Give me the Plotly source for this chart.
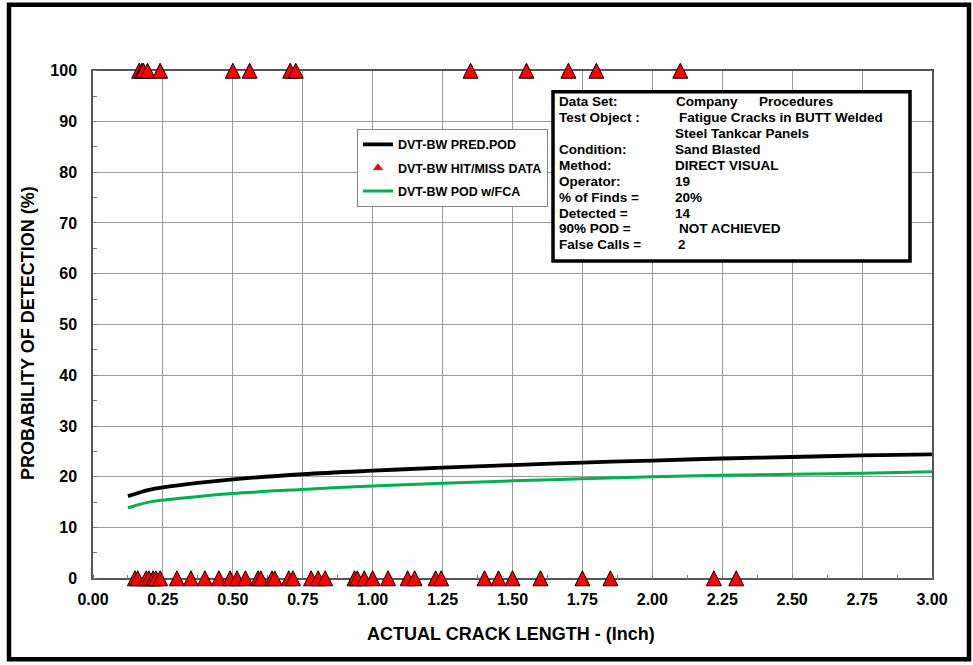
import plotly.graph_objects as go

# ---------------- data ----------------
curve_x = [0.125, 0.15, 0.2, 0.25, 0.375, 0.5, 0.75, 1.0, 1.25, 1.5, 1.75, 2.0, 2.25, 2.5, 2.75, 3.0]
pred_pod = [16.2, 16.6, 17.4, 17.9, 18.8, 19.5, 20.5, 21.2, 21.8, 22.3, 22.8, 23.2, 23.6, 23.9, 24.2, 24.4]
pod_fca = [13.9, 14.3, 15.0, 15.4, 16.1, 16.7, 17.5, 18.2, 18.7, 19.2, 19.6, 20.0, 20.3, 20.5, 20.7, 21.0]

hit_x = [0.165, 0.175, 0.18, 0.195, 0.24, 0.50, 0.56, 0.705, 0.725, 1.35, 1.55, 1.70, 1.80, 2.10]
hit_y = [100] * len(hit_x)
miss_x = [0.15, 0.16, 0.19, 0.20, 0.215, 0.225, 0.24, 0.30, 0.35, 0.40, 0.45, 0.49, 0.515,
          0.545, 0.59, 0.60, 0.64, 0.65, 0.70, 0.715, 0.78, 0.805, 0.83, 0.935, 0.945, 0.97,
          1.00, 1.055, 1.125, 1.15, 1.225, 1.245, 1.40, 1.45, 1.50, 1.60, 1.75, 1.85, 2.22, 2.30]
miss_y = [0] * len(miss_x)

x_ticks = [0, 0.25, 0.5, 0.75, 1.0, 1.25, 1.5, 1.75, 2.0, 2.25, 2.5, 2.75, 3.0]
x_tick_labels = ["0.00", "0.25", "0.50", "0.75", "1.00", "1.25", "1.50", "1.75", "2.00",
                 "2.25", "2.50", "2.75", "3.00"]
y_ticks = [0, 10, 20, 30, 40, 50, 60, 70, 80, 90, 100]
y_tick_labels = ["0", "10", "20", "30", "40", "50", "60", "70", "80", "90", "100"]

series_names = ["DVT-BW PRED.POD", "DVT-BW HIT/MISS DATA", "DVT-BW POD w/FCA"]

info_labels = ["Data Set:", "Test Object :", "", "Condition:", "Method:", "Operator:",
               "% of Finds =", "Detected =", "90% POD =", "False Calls ="]
info_values = ["Company", "Fatigue Cracks in BUTT Welded", "Steel Tankcar Panels", "Sand Blasted",
               "DIRECT VISUAL", "19", "20%", "14", "NOT ACHIEVED", "2"]
info_extra = "Procedures"

x_title = "ACTUAL CRACK LENGTH - (Inch)"
y_title = "PROBABILITY OF DETECTION (%)"

# ---------------- layout geometry (pixels) ----------------
W, H = 973, 665
PLOT_L, PLOT_R, PLOT_T, PLOT_B = 93, 932, 71, 578      # main plotting rectangle
PPU = (PLOT_B - PLOT_T) / 100.0                          # pixels per % unit
MSIZE = 15                                               # marker size
APEX = MSIZE / 2.0                                       # arrow apex offset so triangle is centered
Y2_RANGE = [-3, 103]
y2_bot = PLOT_B - APEX - Y2_RANGE[0] * PPU
y2_top = PLOT_B - APEX - Y2_RANGE[1] * PPU

PAPER_T = y2_top - 1
PAPER_B = y2_bot + 1
L, R = PLOT_L, W - PLOT_R
T, B = PAPER_T, H - PAPER_B
PW = W - L - R
PH = PAPER_B - PAPER_T

y_dom = [(PAPER_B - PLOT_B) / PH, (PAPER_B - PLOT_T) / PH]
y2_dom = [(PAPER_B - y2_bot) / PH, (PAPER_B - y2_top) / PH]


def px(xp):
    return (xp - L) / PW


def py(yp):
    return (PAPER_B - yp) / PH


FONT = "Liberation Sans, Arial, sans-serif"
GREEN = "#00b050"

fig = go.Figure()

fig.add_trace(go.Scatter(x=curve_x, y=pred_pod, mode="lines", name=series_names[0],
                         line=dict(color="black", width=3.8, shape="spline"),
                         legendgroup="a", legendrank=1))
fig.add_trace(go.Scatter(x=curve_x, y=pod_fca, mode="lines", name=series_names[2],
                         line=dict(color=GREEN, width=3, shape="spline"),
                         legendgroup="c", legendrank=3))
# legend-only entry for hit/miss
fig.add_trace(go.Scatter(x=[None], y=[None], mode="markers", name=series_names[1],
                         marker=dict(symbol="triangle-up", size=8, color="#ff0000",
                                     line=dict(color="#600000", width=0.5)),
                         legendgroup="b", legendrank=2))
# actual hit/miss markers, on a helper subplot whose scale puts each triangle centred on its value
fig.add_trace(go.Scatter(x=hit_x + miss_x, y=hit_y + miss_y, mode="markers",
                         showlegend=False, xaxis="x2", yaxis="y2", cliponaxis=False,
                         marker=dict(symbol="arrow-up", size=MSIZE, color="#ff0000",
                                     line=dict(color="black", width=1))))

fig.update_layout(
    width=W, height=H,
    margin=dict(l=L, r=R, t=T, b=B),
    paper_bgcolor="white", plot_bgcolor="rgba(0,0,0,0)",
    font=dict(family=FONT, color="black"),
    showlegend=True,
    legend=dict(x=px(357), y=py(129), xanchor="left", yanchor="top",
                bgcolor="white", bordercolor="#888888", borderwidth=1,
                font=dict(family=FONT, size=12.5, weight="bold", color="black"),
                itemwidth=30, tracegroupgap=4, traceorder="grouped"),
    xaxis=dict(range=[0, 3], tickvals=x_ticks, ticktext=x_tick_labels,
               showgrid=True, gridcolor="#9a9a9a", gridwidth=1,
               showline=True, linecolor="#555555", linewidth=1.5, mirror=True,
               zeroline=False, ticks="", ticklabelstandoff=6,
               tickfont=dict(family=FONT, size=16, weight="bold", color="black"),
               minor=dict(dtick=0.125, ticks="inside", ticklen=4, tickcolor="#777777",
                          showgrid=False)),
    yaxis=dict(range=[0, 100], domain=y_dom, tickvals=y_ticks, ticktext=y_tick_labels,
               showgrid=True, gridcolor="#9a9a9a", gridwidth=1,
               showline=True, linecolor="#555555", linewidth=1.5, mirror=True,
               zeroline=False, ticks="", ticklabelstandoff=11,
               tickfont=dict(family=FONT, size=16, weight="bold", color="black"),
               minor=dict(dtick=5, ticks="inside", ticklen=4, tickcolor="#777777",
                          showgrid=False)),
    xaxis2=dict(range=[0, 3], domain=[0, 1], anchor="y2", visible=False, showgrid=False),
    yaxis2=dict(range=Y2_RANGE, domain=y2_dom, anchor="x2", visible=False, showgrid=False),
)

shapes = [
    # outer frame
    dict(type="rect", xref="paper", yref="paper", x0=px(9), x1=px(969), y0=py(5), y1=py(659),
         line=dict(color="black", width=4.5), fillcolor="rgba(0,0,0,0)", layer="above"),
    # info box
    dict(type="rect", xref="paper", yref="paper", x0=px(553), x1=px(910), y0=py(92), y1=py(261),
         line=dict(color="black", width=3.5), fillcolor="white", layer="above"),
]
fig.update_layout(shapes=shapes)

annotations = []
row_y = [102, 118, 134, 150, 166, 182, 198, 213.5, 229, 244.5]
val_x = [674, 677, 672.5, 672.5, 672.5, 673, 673, 673, 677, 676]
IFONT = dict(family=FONT, size=13.5, weight="bold")
for i, lab in enumerate(info_labels):
    if lab:
        annotations.append(dict(xref="paper", yref="paper", x=px(557), y=py(row_y[i]),
                                text=lab, showarrow=False, xanchor="left", yanchor="middle",
                                font=IFONT))
    annotations.append(dict(xref="paper", yref="paper", x=px(val_x[i]), y=py(row_y[i]),
                            text=info_values[i], showarrow=False, xanchor="left", yanchor="middle",
                            font=IFONT))
annotations.append(dict(xref="paper", yref="paper", x=px(757), y=py(row_y[0]),
                        text=info_extra, showarrow=False, xanchor="left", yanchor="middle",
                        font=IFONT))
annotations.append(dict(xref="paper", yref="paper", x=px(511), y=py(634), text=x_title,
                        showarrow=False, xanchor="center", yanchor="middle",
                        font=dict(family=FONT, size=18, weight="bold")))
annotations.append(dict(xref="paper", yref="paper", x=px(28), y=py(333), text=y_title,
                        showarrow=False, xanchor="center", yanchor="middle", textangle=-90,
                        font=dict(family=FONT, size=18, weight="bold")))
fig.update_layout(annotations=annotations)

fig.write_html("out.html")
